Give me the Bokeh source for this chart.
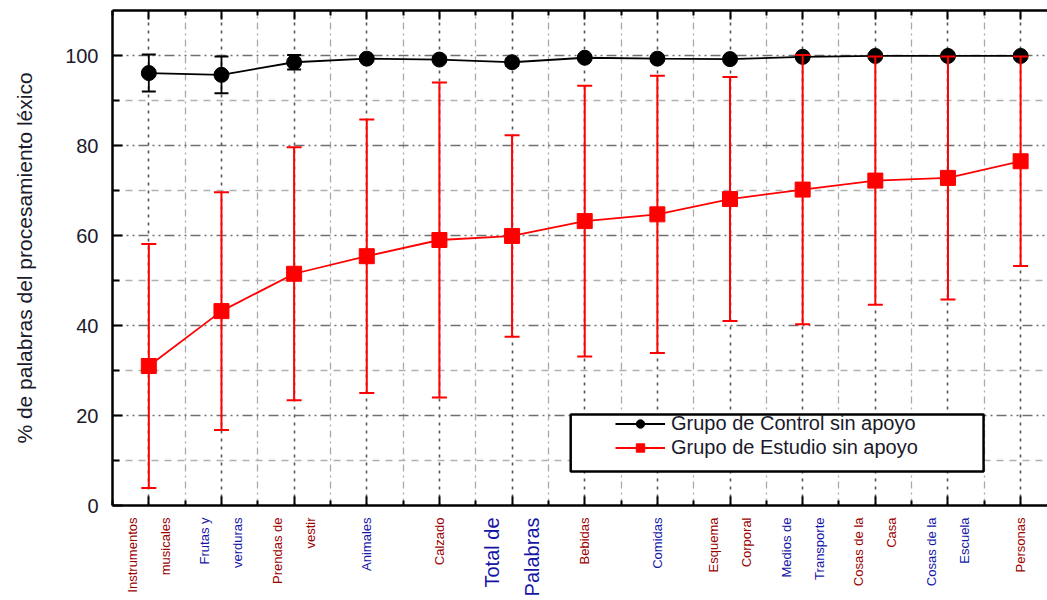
import math
from bokeh.plotting import figure
from bokeh.layouts import column
from bokeh.models import (ColumnDataSource, LinearAxis, FixedTicker, Range1d,
                          Legend, LegendItem, BoxAnnotation,
                          CustomLabelingPolicy)
from bokeh.core.properties import value
from bokeh.embed import file_html
from bokeh.resources import INLINE

# ---------------- data ----------------
categories = ["Instrumentos musicales", "Frutas y verduras", "Prendas de vestir",
              "Animales", "Calzado", "Total de Palabras", "Bebidas", "Comidas",
              "Esquema Corporal", "Medios de Transporte", "Cosas de la Casa",
              "Cosas de la Escuela", "Personas"]
label_lines = [["Instrumentos", "musicales"], ["Frutas y", "verduras"],
               ["Prendas de", "vestir"], ["Animales"], ["Calzado"],
               ["Total de", "Palabras"], ["Bebidas"], ["Comidas"],
               ["Esquema", "Corporal"], ["Medios de", "Transporte"],
               ["Cosas de la", "Casa"], ["Cosas de la", "Escuela"], ["Personas"]]
control_mean = [96.1, 95.7, 98.5, 99.3, 99.1, 98.5, 99.5, 99.3, 99.2, 99.7, 99.9, 99.9, 99.9]
control_sd = [4.1, 4.1, 1.6, 0.5, 0.5, 0.8, 0.4, 0.5, 0.6, 0.3, 0.1, 0.1, 0.1]
study_mean = [31.0, 43.2, 51.5, 55.4, 59.0, 59.9, 63.2, 64.7, 68.1, 70.2, 72.2, 72.8, 76.5]
study_sd = [27.1, 26.4, 28.1, 30.4, 35.0, 22.4, 30.1, 30.8, 27.1, 29.9, 27.6, 27.0, 23.3]
series_names = ["Grupo de Control sin apoyo", "Grupo de Estudio sin apoyo"]
y_ticks = [0, 20, 40, 60, 80, 100]
y_minor_ticks = [10, 30, 50, 70, 90]
y_label = "% de palabras del procesamiento léxico"

FONT = "Liberation Sans"
x = list(range(len(categories)))
x_minor = [i + 0.5 for i in range(-1, len(categories))]

ctrl = ColumnDataSource(dict(
    x=x, y=control_mean,
    lo=[m - s for m, s in zip(control_mean, control_sd)],
    hi=[m + s for m, s in zip(control_mean, control_sd)]))
stud = ColumnDataSource(dict(
    x=x, y=study_mean,
    lo=[m - s for m, s in zip(study_mean, study_sd)],
    hi=[m + s for m, s in zip(study_mean, study_sd)]))

p = figure(width=1047, height=516, x_range=Range1d(-0.5, 12.37),
           y_range=Range1d(0, 110), output_backend="svg", toolbar_location=None,
           min_border_left=112, min_border_right=0, min_border_top=10,
           min_border_bottom=11)
p.outline_line_color = None
p.background_fill_color = "white"
p.border_fill_color = "white"

xtick = FixedTicker(ticks=x, minor_ticks=x_minor)
ytick = FixedTicker(ticks=y_ticks, minor_ticks=y_minor_ticks)
no_labels = CustomLabelingPolicy(code="return []")

# bottom axis (ticks only; category names drawn in the strip below)
xa = p.xaxis[0]
xa.ticker = xtick
xa.major_label_policy = no_labels
xa.major_label_text_font_size = "0px"
xa.major_label_standoff = 0
xa.axis_label_standoff = 0
xa.axis_line_width = 2.5
xa.major_tick_in = 9
xa.major_tick_out = 0
xa.minor_tick_in = 5
xa.minor_tick_out = 0
xa.major_tick_line_width = 2
xa.minor_tick_line_width = 2

# top axis
ta = LinearAxis(ticker=xtick, major_label_policy=no_labels,
                major_label_text_font_size="0px",
                major_label_standoff=0, axis_label_standoff=0,
                axis_line_width=2.5,
                major_tick_in=9, major_tick_out=0, minor_tick_in=5,
                minor_tick_out=0, major_tick_line_width=2,
                minor_tick_line_width=2)
p.add_layout(ta, "above")

# left axis
ya = p.yaxis[0]
ya.ticker = ytick
ya.axis_line_width = 2.5
ya.major_tick_in = 10
ya.major_tick_out = 0
ya.minor_tick_in = 7
ya.minor_tick_out = 0
ya.major_tick_line_width = 2
ya.minor_tick_line_width = 2
ya.major_label_text_font = FONT
ya.major_label_text_font_size = "20px"
ya.major_label_text_color = "#1a1a2a"
ya.major_label_standoff = 14
ya.axis_label = y_label
ya.axis_label_text_font = FONT
ya.axis_label_text_font_size = "21px"
ya.axis_label_text_font_style = "normal"
ya.axis_label_text_color = "#1a1a2a"
ya.axis_label_standoff = 26

# grids
p.xgrid.ticker = xtick
p.xgrid.grid_line_color = "#555555"
p.xgrid.grid_line_dash = "3 5"
p.xgrid.grid_line_width = 1.6
p.xgrid.minor_grid_line_color = "#aaaaaa"
p.xgrid.minor_grid_line_dash = "7 4 2 4"
p.xgrid.minor_grid_line_width = 1.3
p.ygrid.ticker = ytick
p.ygrid.grid_line_color = "#707070"
p.ygrid.grid_line_dash = "10 4 2 4 2 4"
p.ygrid.grid_line_width = 1.7
p.ygrid.minor_grid_line_color = "#b0b0b0"
p.ygrid.minor_grid_line_dash = "7 6"
p.ygrid.minor_grid_line_width = 1.5

# control series
p.segment(x0="x", y0="lo", x1="x", y1="hi", source=ctrl, line_color="black", line_width=1.8)
p.scatter(x="x", y="lo", source=ctrl, marker="dash", size=14, line_color="black", line_width=2)
p.scatter(x="x", y="hi", source=ctrl, marker="dash", size=14, line_color="black", line_width=2)
c_line = p.line(x="x", y="y", source=ctrl, line_color="black", line_width=1.8)
c_pts = p.scatter(x="x", y="y", source=ctrl, marker="circle", size=15,
                  fill_color="black", line_color="black")

# study series
p.segment(x0="x", y0="lo", x1="x", y1="hi", source=stud, line_color="#ff0000", line_width=2)
p.scatter(x="x", y="lo", source=stud, marker="dash", size=15, line_color="#ff0000", line_width=2)
p.scatter(x="x", y="hi", source=stud, marker="dash", size=15, line_color="#ff0000", line_width=2)
s_line = p.line(x="x", y="y", source=stud, line_color="#ff0000", line_width=1.8)
s_pts = p.scatter(x="x", y="y", source=stud, marker="square", size=15,
                  fill_color="#ff0000", line_color="#ff0000")

# legend frame + legend
box = BoxAnnotation(left=5.807, right=11.49, bottom=7.56, top=20.22,
                    fill_color="white", fill_alpha=1.0, line_color="black",
                    line_alpha=1.0, line_width=2.5)
p.add_layout(box)
legend = Legend(items=[LegendItem(label=series_names[0], renderers=[c_line, c_pts]),
                       LegendItem(label=series_names[1], renderers=[s_line, s_pts])],
                location=(503, 46), padding=0, margin=0, spacing=1,
                glyph_width=50, glyph_height=21, label_height=21,
                label_standoff=6, border_line_color=None,
                background_fill_alpha=0.0, label_text_font=FONT,
                label_text_font_size="20px", label_text_color="#1a1a2a")
p.add_layout(legend)

# ---------- category label strip (shares the x scale) ----------
lx, lt, lc, lo, ls = [], [], [], [], []
for i, lines in enumerate(label_lines):
    big = categories[i] == "Total de Palabras"
    gap = 40 if big else 33
    n = len(lines)
    for j, t in enumerate(lines):
        lx.append(x[i])
        lt.append(t)
        lc.append("#990000" if i % 2 == 0 else "#1515a5")
        lo.append((j - (n - 1) / 2) * gap)
        ls.append("20px" if big else "13px")
lab_src = ColumnDataSource(dict(x=lx, text=lt, color=lc, xoff=lo, size=ls))

q = figure(width=1047, height=84, x_range=p.x_range, y_range=Range1d(-84, 0),
           output_backend="svg", toolbar_location=None,
           x_axis_location=None, y_axis_location=None,
           min_border_left=112, min_border_right=0, min_border_top=0,
           min_border_bottom=0)
q.outline_line_color = None
q.grid.visible = False
q.background_fill_color = "white"
q.border_fill_color = "white"
q.text(x="x", y=-1, text="text", source=lab_src, angle=math.pi / 2,
       text_align="right", text_baseline="middle", x_offset="xoff",
       text_color="color", text_font_size="size", text_font=value(FONT))

layout = column(p, q, spacing=0)
open("out.html", "w").write(file_html(layout, INLINE))
